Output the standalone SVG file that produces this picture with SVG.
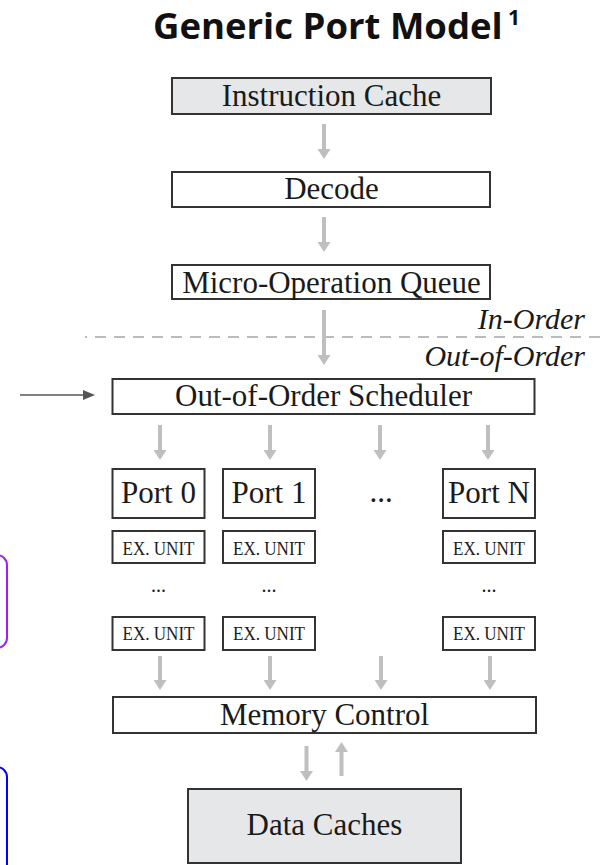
<svg xmlns="http://www.w3.org/2000/svg" width="600" height="865" viewBox="0 0 600 865">
<style>
  .box { fill: #ffffff; stroke: #333333; stroke-width: 2; }
  .shade { fill: #e6e7e8; }
  .lbl { font-family: "Liberation Serif", "Times New Roman", serif; font-size: 31px; fill: #1a1a1a; text-anchor: middle; }
  .ex { font-family: "Liberation Serif", "Times New Roman", serif; font-size: 19px; fill: #1a1a1a; text-anchor: middle; }
  .dots { font-family: "Liberation Serif", "Times New Roman", serif; font-size: 20px; fill: #1a1a1a; text-anchor: middle; }
  .it { font-family: "Liberation Serif", "Times New Roman", serif; font-size: 30px; font-style: italic; fill: #1a1a1a; text-anchor: end; }
  .title { font-family: "Open Sans", "Noto Sans", sans-serif; font-weight: 700; fill: #111111; }
  .flow { stroke: #bfbfbf; stroke-width: 4; fill: none; marker-end: url(#ah); }
  .side { stroke: #555555; stroke-width: 1.6; fill: none; marker-end: url(#ahd); }
</style>
<defs>
  <marker id="ah" markerUnits="userSpaceOnUse" markerWidth="10" markerHeight="13" refX="0" refY="6.5" orient="auto">
    <path d="M0,0 L10,6.5 L0,13 z" fill="#bfbfbf"/>
  </marker>
  <marker id="ahd" markerUnits="userSpaceOnUse" markerWidth="12" markerHeight="10" refX="0" refY="5" orient="auto">
    <path d="M0,0 L12,5 L0,10 z" fill="#555555"/>
  </marker>
</defs>

<g id="page-edges" fill="none" stroke-width="2">
  <rect x="-30" y="555" width="37" height="93" rx="10" stroke="#a020f0"/>
  <rect x="-30" y="767" width="37" height="140" rx="10" stroke="#0000ff"/>
</g>

<g id="title">
  <text class="title" x="153" y="39" font-size="36.5">Generic Port Model</text>
  <text class="title" x="508" y="25" font-size="21">1</text>
</g>

<g id="divider">
  <line x1="85" y1="337" x2="600" y2="337" stroke="#bbbbbb" stroke-width="2" stroke-dasharray="11 8" stroke-dashoffset="9"/>
  <text class="it" x="585" y="329">In-Order</text>
  <text class="it" x="585" y="366">Out-of-Order</text>
</g>

<g id="connectors">
  <line class="flow" x1="324" y1="124" x2="324" y2="149"/>
  <line class="flow" x1="324" y1="217" x2="324" y2="242"/>
  <line class="flow" x1="324" y1="310" x2="324" y2="355"/>
  <line class="flow" x1="160" y1="425" x2="160" y2="450"/>
  <line class="flow" x1="270" y1="425" x2="270" y2="450"/>
  <line class="flow" x1="380" y1="425" x2="380" y2="450"/>
  <line class="flow" x1="488" y1="425" x2="488" y2="450"/>
  <line class="flow" x1="160" y1="656" x2="160" y2="680"/>
  <line class="flow" x1="270" y1="656" x2="270" y2="680"/>
  <line class="flow" x1="381" y1="656" x2="381" y2="680"/>
  <line class="flow" x1="490" y1="656" x2="490" y2="680"/>
  <line class="flow" x1="306.5" y1="746" x2="306.5" y2="771"/>
  <line class="flow" x1="341.5" y1="776" x2="341.5" y2="752"/>
  <line class="side" x1="20" y1="395" x2="83" y2="395"/>
</g>

<g id="instruction-cache">
  <rect class="box shade" x="172" y="78" width="319" height="36"/>
  <text class="lbl" x="331.5" y="106">Instruction Cache</text>
</g>
<g id="decode">
  <rect class="box" x="172" y="172" width="318" height="35"/>
  <text class="lbl" x="331.5" y="199">Decode</text>
</g>
<g id="micro-op-queue">
  <rect class="box" x="172" y="265" width="318" height="34"/>
  <text class="lbl" x="331.5" y="293">Micro-Operation Queue</text>
</g>
<g id="scheduler">
  <rect class="box" x="112.5" y="379" width="422" height="35"/>
  <text class="lbl" x="323.5" y="406">Out-of-Order Scheduler</text>
</g>

<g id="port-0">
  <rect class="box" x="112.5" y="469" width="92" height="49"/>
  <text class="lbl" x="158.5" y="503">Port 0</text>
</g>
<g id="port-1">
  <rect class="box" x="223" y="469" width="92" height="49"/>
  <text class="lbl" x="269" y="503">Port 1</text>
</g>
<g id="port-ellipsis">
  <text class="lbl" x="381" y="502">...</text>
</g>
<g id="port-n">
  <rect class="box" x="443" y="469" width="92" height="49"/>
  <text class="lbl" x="489" y="503">Port N</text>
</g>

<g id="ex-0a">
  <rect class="box" x="112.5" y="531" width="92" height="32"/>
  <text class="ex" x="158.5" y="555" textLength="72" lengthAdjust="spacingAndGlyphs">EX. UNIT</text>
</g>
<g id="ex-1a">
  <rect class="box" x="223" y="531" width="92" height="32"/>
  <text class="ex" x="269" y="555" textLength="72" lengthAdjust="spacingAndGlyphs">EX. UNIT</text>
</g>
<g id="ex-na">
  <rect class="box" x="443" y="531" width="92" height="32"/>
  <text class="ex" x="489" y="555" textLength="72" lengthAdjust="spacingAndGlyphs">EX. UNIT</text>
</g>

<g id="ex-dots">
  <text class="dots" x="158.5" y="592">...</text>
  <text class="dots" x="269" y="592">...</text>
  <text class="dots" x="489" y="592">...</text>
</g>

<g id="ex-0b">
  <rect class="box" x="112.5" y="617" width="92" height="33"/>
  <text class="ex" x="158.5" y="640" textLength="72" lengthAdjust="spacingAndGlyphs">EX. UNIT</text>
</g>
<g id="ex-1b">
  <rect class="box" x="223" y="617" width="92" height="33"/>
  <text class="ex" x="269" y="640" textLength="72" lengthAdjust="spacingAndGlyphs">EX. UNIT</text>
</g>
<g id="ex-nb">
  <rect class="box" x="443" y="617" width="92" height="33"/>
  <text class="ex" x="489" y="640" textLength="72" lengthAdjust="spacingAndGlyphs">EX. UNIT</text>
</g>

<g id="memory-control">
  <rect class="box" x="113" y="697" width="423" height="36"/>
  <text class="lbl" x="324.5" y="725">Memory Control</text>
</g>
<g id="data-caches">
  <rect class="box shade" x="188" y="789" width="273" height="74"/>
  <text class="lbl" x="324.5" y="835">Data Caches</text>
</g>
</svg>
